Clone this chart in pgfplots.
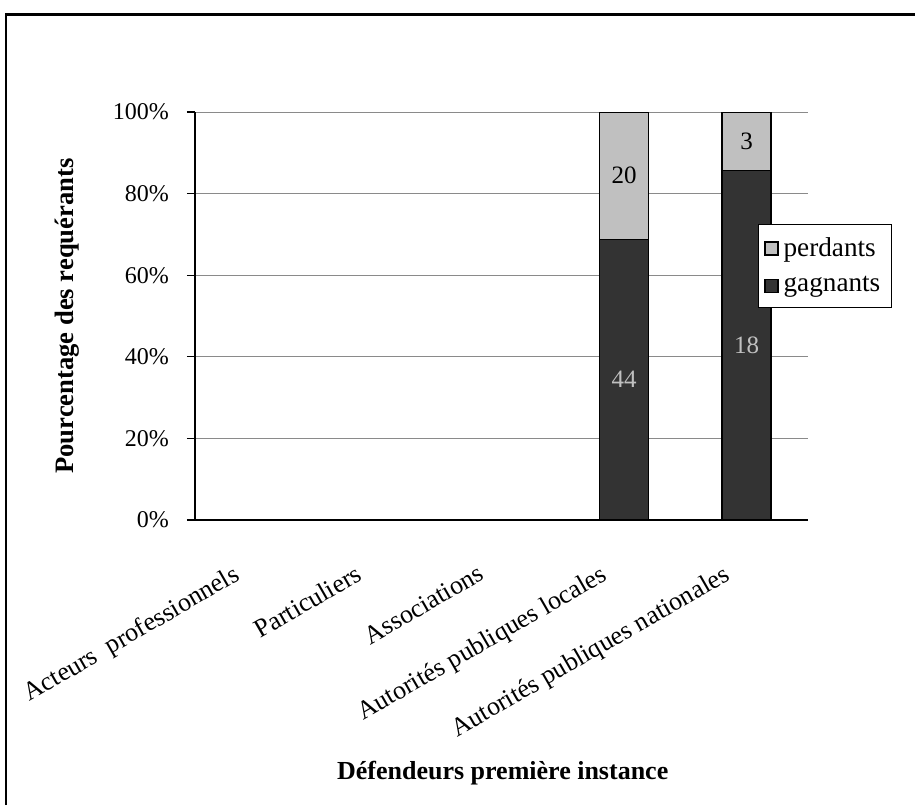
\documentclass[border=0pt]{standalone}
\usepackage{fontspec}
\setmainfont{Liberation Serif}
\usepackage{pgfplots}
\pgfplotsset{compat=1.18}
\definecolor{lightbar}{HTML}{C0C0C0}
\definecolor{darkbar}{HTML}{333333}
\definecolor{gridc}{HTML}{8A8A8A}
\begin{document}
\begin{tikzpicture}[font=\fontsize{12}{14}\selectfont]
\path[use as bounding box] (0,0) rectangle (457.5pt,-402.5pt);
\draw[line width=1.4pt] (3pt,-402.5pt) -- (3pt,-7.25pt) -- (457.5pt,-7.25pt);
\begin{axis}[
  at={(97.5pt,-260pt)}, anchor=south west,
  scale only axis, width=306.5pt, height=204pt,
  xmin=-0.5, xmax=4.5, ymin=0, ymax=100,
  ybar stacked, bar width=24.5pt,
  axis lines*=left,
  axis line style={line width=0.6pt, black},
  xtick={0,...,4},
  xticklabels={Acteurs\ \ professionnels, Particuliers, Associations, Autorités publiques locales, Autorités publiques nationales},
  xtick style={draw=none},
  minor xtick={-0.5,0.5,...,4.5},
  minor x tick style={black, line width=0.6pt},
  ytick={0,20,...,100},
  y tick style={black, line width=0.6pt},
  tick align=outside,
  major tick length=4pt, minor tick length=4pt,
  /pgf/number format/assume math mode=true,
  yticklabel={\pgfmathprintnumber{\tick}\%},
  ymajorgrids, grid style={gridc, line width=0.5pt},
  xticklabel style={font=\fontsize{13}{15}\selectfont, xshift=-11pt, yshift=-13pt, rotate=30, anchor=north east},
  yticklabel style={font=\fontsize{12}{14}\selectfont, xshift=-5.5pt},
  xlabel={Défendeurs première instance},
  ylabel={Pourcentage des requérants},
  xlabel style={font=\fontsize{13}{15}\selectfont\bfseries, at={(axis description cs:0.502,-0.62)}, anchor=center},
  ylabel style={font=\fontsize{13.3}{15}\selectfont\bfseries, at={(axis description cs:-0.209,0.5)}, anchor=center, rotate=0},
  reverse legend,
  legend cell align=left,
  legend style={at={(axis description cs:0.918,0.725)}, anchor=north west, draw=black, line width=0.5pt,
    font=\fontsize{13.6}{15}\selectfont, inner xsep=3pt, inner ysep=5pt, row sep=5.5pt,
    nodes={inner xsep=2.5pt, inner ysep=1.5pt}},
]
\addplot[fill=darkbar, draw=black, line width=0.75pt,
  legend image code/.code={\draw[fill=darkbar, draw=black, line width=0.7pt] (0pt,-3.25pt) rectangle (6.5pt,3.25pt);}]
  coordinates {(3,68.75) (4,85.714)};
\addlegendentry{gagnants}
\addplot[fill=lightbar, draw=black, line width=0.75pt,
  legend image code/.code={\draw[fill=lightbar, draw=black, line width=0.7pt] (0pt,-3.25pt) rectangle (6.5pt,3.25pt);}]
  coordinates {(3,31.25) (4,14.286)};
\addlegendentry{perdants}
\end{axis}
\begin{axis}[
  at={(97.5pt,-260pt)}, anchor=south west,
  scale only axis, width=306.5pt, height=204pt,
  xmin=-0.5, xmax=4.5, ymin=0, ymax=100,
  hide axis,
]
\addplot[draw=none, mark=none, nodes near coords, point meta=explicit symbolic,
  nodes near coords style={anchor=center, text=lightbar, font=\fontsize{12.5}{14}\selectfont}]
  coordinates {(3,34.375)[44] (4,42.857)[18]};
\addplot[draw=none, mark=none, nodes near coords, point meta=explicit symbolic,
  nodes near coords style={anchor=center, text=black, font=\fontsize{12.5}{14}\selectfont}]
  coordinates {(3,84.375)[20] (4,92.857)[3]};
\end{axis}
\end{tikzpicture}
\end{document}
